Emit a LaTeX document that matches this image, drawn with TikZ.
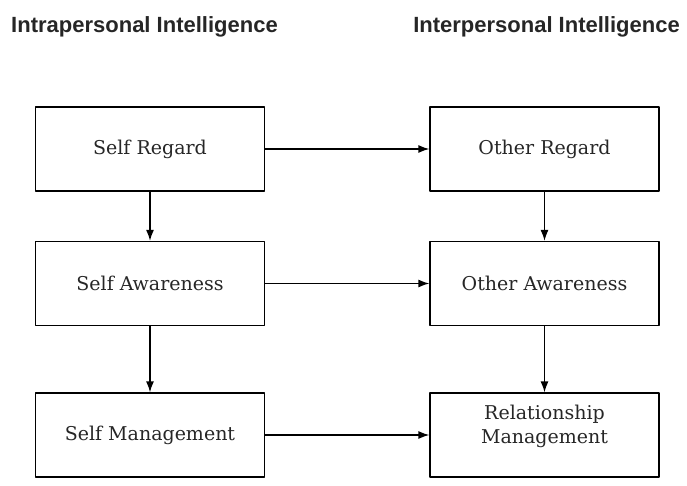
\documentclass[tikz,border=0pt]{standalone}
\usepackage{fontspec}
\newfontfamily\headfont{Liberation Sans}
\newfontfamily\boxfont{DejaVu Serif}
\usetikzlibrary{arrows.meta,positioning}
\begin{document}
\begin{tikzpicture}[x=1pt,y=-1pt,>={Latex[length=11pt,width=8pt]}, line join=round,
	box/.style={draw,line width=1.3pt,minimum width=229pt,minimum height=84pt,inner sep=0pt,align=center,text=black!85,font=\boxfont\fontsize{19}{24}\selectfont},
	head/.style={font=\headfont\bfseries\fontsize{22}{24}\selectfont,text=black!85,anchor=base}]
		\def\xl{150} \def\xr{544.5} % columns
		\useasboundingbox (0,0) rectangle (687,486);
		\node[head] (intra) at (144.5,33) {Intrapersonal Intelligence};
		\node[head] (inter) at (546.5,33) {Interpersonal Intelligence};
		\node[box] (sreg) at (\xl,149) {Self Regard};
		\node[box] (saw) at (\xl,283.5) {Self Awareness};
		\node[box] (sman) at (\xl,435) {Self Management};
		\node[box] (oreg) at (\xr,149) {Other Regard};
		\node[box] (oaw) at (\xr,283.5) {Other Awareness};
		\node[box,text depth=22pt] (rman) at (\xr,435) {Relationship\\Management};
		\foreach \a/\b in {sreg/saw,saw/sman,oreg/oaw,oaw/rman}
		\draw[->,line width=1.3pt] (\a)--(\b);
		\foreach \a/\b in {sreg/oreg,saw/oaw,sman/rman}
		\draw[->,line width=1.3pt] (\a)--(\b);
\end{tikzpicture}
\end{document}
